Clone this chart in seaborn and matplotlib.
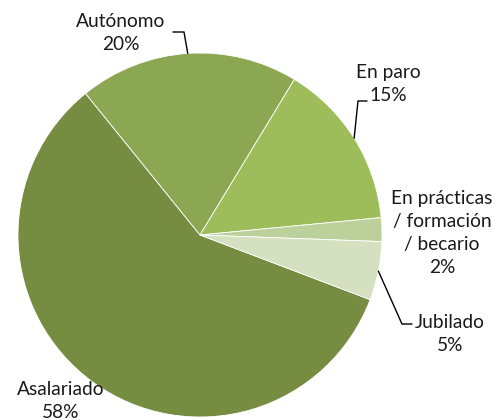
import numpy as np
import matplotlib
matplotlib.use("Agg")
import matplotlib.pyplot as plt
import seaborn as sns

sns.set_theme(style="white")
plt.rcParams['font.family'] = ['Lato', 'DejaVu Sans']

categories = ["Asalariado", "Autónomo", "En paro",
              "En prácticas\n/ formación\n/ becario", "Jubilado"]
values = [58.4, 19.5, 14.8, 2.1, 5.2]
pct_labels = ["58%", "20%", "15%", "2%", "5%"]
colors = ["#758C41", "#8CA751", "#9DBC5A", "#BBD09A", "#D4E0C0"]

W, H = 495, 420
fig = plt.figure(figsize=(W / 100, H / 100), dpi=100)
cx, cy, r = 200, 235, 182
ax = fig.add_axes([(cx - r) / W, (H - cy - r) / H, 2 * r / W, 2 * r / H])

wedges, _ = ax.pie(values, colors=colors, startangle=-20.8, counterclock=False,
                   radius=1.0, wedgeprops=dict(edgecolor="white", linewidth=0.6))
ax.set_xlim(-1, 1)
ax.set_ylim(-1, 1)
ax.set_aspect("equal")
ax.axis("off")


def px(x, y):
    return ((x - cx) / r, (cy - y) / r)


# label centres (pixels) and optional leader line elbows
label_pos = [(61, 401), (121, 33), (388, 84), (442, 233), (450, 334)]
elbows = [None, [(184, 32), (173, 32)], [(358, 101), (367, 101)], None,
          [(402, 324), (412, 324)]]

for w, cat, pl, pos, el in zip(wedges, categories, pct_labels, label_pos, elbows):
    tx, ty = px(*pos)
    ax.text(tx, ty, f"{cat}\n{pl}", ha="center", va="center", multialignment="center",
            fontsize=13.8, color="#1a1a1a", linespacing=1.42, clip_on=False)
    if el is not None:
        mid = np.deg2rad((w.theta1 + w.theta2) / 2)
        xs = [np.cos(mid)] + [px(*p)[0] for p in el]
        ys = [np.sin(mid)] + [px(*p)[1] for p in el]
        ax.plot(xs, ys, color="black", lw=1.0, clip_on=False)

fig.savefig("out.png", dpi=100)
